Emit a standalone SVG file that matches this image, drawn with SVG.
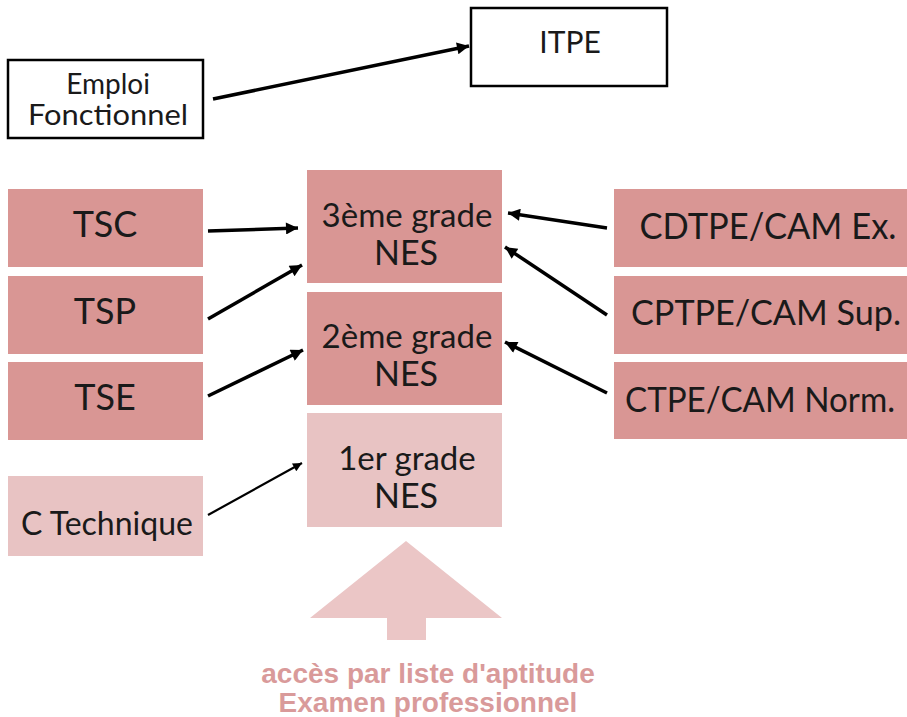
<svg xmlns="http://www.w3.org/2000/svg" width="907" height="717" viewBox="0 0 907 717">
<defs>
<style>
.wb{fill:#fff;stroke:#000;stroke-width:2.5}
.dk{fill:#D99694}
.lt{fill:#E8C3C3}
.lb{font-family:Lato,"Open Sans","Noto Sans",sans-serif;fill:#1a1a1a;text-anchor:middle}
.cn line{stroke:#000;stroke-width:3.5;marker-end:url(#ah)}
.cn line.thin{stroke-width:2.2;marker-end:url(#ahs)}
.bt{font-family:"Liberation Sans",Arial,sans-serif;font-weight:bold;font-size:28px;fill:#D99A9A;text-anchor:middle}
</style>
<marker id="ah" viewBox="0 0 10 10" refX="10" refY="5" markerUnits="userSpaceOnUse" markerWidth="28" markerHeight="12" orient="auto">
<path d="M0,0 L10,5 L0,10 z" fill="#000"/>
</marker>
<marker id="ahs" viewBox="0 0 10 10" refX="10" refY="5" markerUnits="userSpaceOnUse" markerWidth="20" markerHeight="9" orient="auto">
<path d="M0,0 L10,5 L0,10 z" fill="#000"/>
</marker>
</defs>
<rect width="907" height="717" fill="#fff"/>

<g id="emploi">
<rect class="wb" x="8" y="60" width="195" height="78"/>
<text class="lb" x="108" y="94" font-size="28">Emploi</text>
<text class="lb" x="108" y="125" font-size="28" textLength="160" lengthAdjust="spacingAndGlyphs">Fonctionnel</text>
</g>
<g id="itpe">
<rect class="wb" x="471" y="8" width="196" height="78"/>
<text class="lb" x="570" y="53" font-size="30">ITPE</text>
</g>

<g id="tsc">
<rect class="dk" x="8" y="189" width="195" height="78"/>
<text class="lb" x="105" y="237" font-size="36">TSC</text>
</g>
<g id="tsp">
<rect class="dk" x="8" y="276" width="195" height="78"/>
<text class="lb" x="105" y="324" font-size="36">TSP</text>
</g>
<g id="tse">
<rect class="dk" x="8" y="362" width="195" height="78"/>
<text class="lb" x="105" y="410" font-size="36">TSE</text>
</g>
<g id="ctech">
<rect class="lt" x="8" y="476" width="195" height="80"/>
<text class="lb" x="107" y="535" font-size="32">C Technique</text>
</g>

<g id="g3">
<rect class="dk" x="307" y="170" width="195" height="113"/>
<text class="lb" x="407" y="227" font-size="33">3ème grade</text>
<text class="lb" x="406" y="265" font-size="34">NES</text>
</g>
<g id="g2">
<rect class="dk" x="307" y="292" width="195" height="113"/>
<text class="lb" x="407" y="348" font-size="33">2ème grade</text>
<text class="lb" x="406" y="386" font-size="34">NES</text>
</g>
<g id="g1">
<rect class="lt" x="307" y="413" width="195" height="114"/>
<text class="lb" x="407" y="470" font-size="33">1er grade</text>
<text class="lb" x="406" y="508" font-size="34">NES</text>
</g>

<g id="cdtpe">
<rect class="dk" x="614" y="189" width="300" height="78"/>
<text class="lb" x="768" y="239" font-size="36" textLength="257" lengthAdjust="spacingAndGlyphs">CDTPE/CAM Ex.</text>
</g>
<g id="cptpe">
<rect class="dk" x="614" y="276" width="300" height="78"/>
<text class="lb" x="766" y="325" font-size="35" textLength="270" lengthAdjust="spacingAndGlyphs">CPTPE/CAM Sup.</text>
</g>
<g id="ctpe">
<rect class="dk" x="614" y="362" width="300" height="77"/>
<text class="lb" x="760" y="412" font-size="35" textLength="270" lengthAdjust="spacingAndGlyphs">CTPE/CAM Norm.</text>
</g>

<g id="access">
<path d="M406,541 L502,618 L426,618 L426,640 L387,640 L387,618 L310,618 Z" fill="#EBC6C6"/>
<text class="bt" x="428" y="683">accès par liste d'aptitude</text>
<text class="bt" x="428" y="712">Examen professionnel</text>
</g>

<g id="connectors" class="cn">
<line x1="213" y1="99" x2="469" y2="46"/>
<line x1="208" y1="231" x2="298" y2="228"/>
<line x1="208" y1="319" x2="302" y2="265"/>
<line x1="208" y1="396" x2="303" y2="350"/>
<line class="thin" x1="208" y1="515" x2="302" y2="463"/>
<line x1="607" y1="228" x2="508" y2="213"/>
<line x1="607" y1="315" x2="505" y2="247"/>
<line x1="607" y1="393" x2="505" y2="342"/>
</g>
</svg>
